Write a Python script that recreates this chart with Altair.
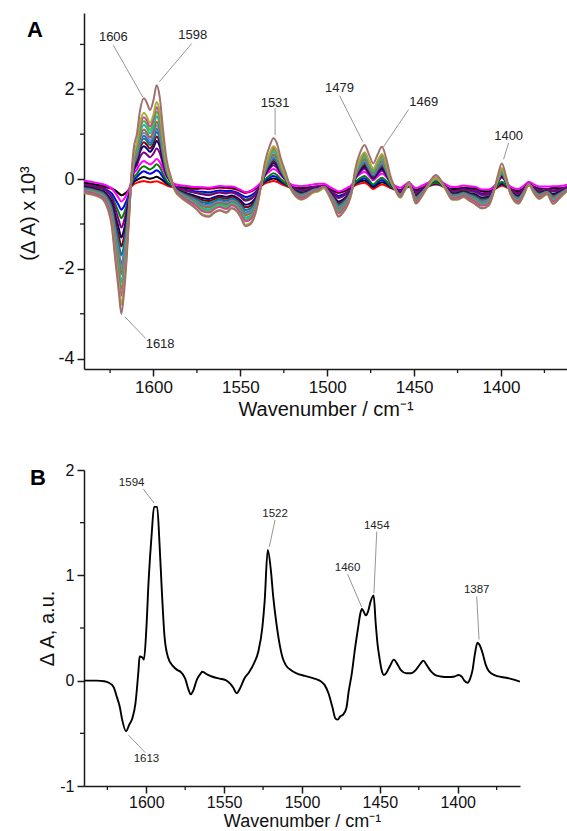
import altair as alt
import pandas as pd

FONT = "Liberation Sans"

# ---------------- Panel A: difference spectra (earliest and latest)
WAVENUMBER_A = [1640, 1636, 1632, 1629, 1626, 1624, 1622, 1620, 1618.5, 1617,
                1615.5, 1614, 1613, 1611.5, 1609.5, 1607.7, 1605.5, 1604, 1602, 1600,
                1598.2, 1596.5, 1594.5, 1592.5, 1590, 1587.5, 1584.5, 1581, 1578, 1575,
                1572, 1568, 1565, 1562, 1558, 1555, 1552, 1550, 1547, 1544,
                1542, 1540, 1538, 1536, 1533, 1531, 1529, 1527, 1524, 1521,
                1518, 1515, 1512, 1508, 1505, 1502, 1499, 1496, 1493.5, 1491,
                1488, 1486, 1484, 1481, 1478.5, 1476, 1473.5, 1471, 1468.5, 1466,
                1463.5, 1461.5, 1458, 1455, 1453, 1451, 1449, 1446, 1443, 1440,
                1437.5, 1435, 1432, 1428, 1425, 1421.5, 1418, 1415, 1411, 1407,
                1404, 1402, 1399.5, 1397, 1394.5, 1390, 1387, 1384, 1381, 1378,
                1373.5, 1370, 1366, 1362]

FIRST_A = [-0.10, -0.12, -0.15, -0.17, -0.20, -0.22, -0.26, -0.32, -0.36, -0.34,
           -0.30, -0.24, -0.18, -0.12, -0.08, -0.06, -0.04, -0.06, -0.07, -0.06,
           -0.05, -0.07, -0.10, -0.14, -0.17, -0.19, -0.20, -0.21, -0.22, -0.22,
           -0.21, -0.22, -0.21, -0.19, -0.20, -0.21, -0.24, -0.27, -0.31, -0.28,
           -0.24, -0.20, -0.15, -0.10, -0.06, -0.04, -0.06, -0.10, -0.15, -0.19,
           -0.21, -0.22, -0.21, -0.19, -0.18, -0.19, -0.23, -0.28, -0.31, -0.29,
           -0.24, -0.20, -0.14, -0.10, -0.08, -0.14, -0.22, -0.16, -0.12, -0.15,
           -0.20, -0.23, -0.26, -0.20, -0.17, -0.22, -0.26, -0.22, -0.18, -0.14,
           -0.12, -0.14, -0.19, -0.24, -0.23, -0.21, -0.22, -0.22, -0.28, -0.29,
           -0.24, -0.19, -0.15, -0.18, -0.24, -0.28, -0.22, -0.15, -0.19, -0.23,
           -0.24, -0.21, -0.22, -0.20]

LAST_A = [-0.30, -0.33, -0.38, -0.45, -0.70, -1.05, -1.80, -2.50, -3.00, -2.55,
          -1.80, -0.84, -0.10, 0.65, 1.02, 1.54, 1.80, 1.72, 1.54, 1.76,
          2.09, 1.85, 1.10, 0.45, 0.05, -0.25, -0.39, -0.50, -0.58, -0.68,
          -0.80, -0.84, -0.75, -0.70, -0.75, -0.65, -0.72, -0.84, -1.05, -1.00,
          -0.85, -0.55, -0.10, 0.35, 0.75, 0.91, 0.80, 0.50, 0.15, -0.20,
          -0.38, -0.45, -0.40, -0.28, -0.25, -0.17, -0.35, -0.62, -0.84, -0.75,
          -0.55, -0.30, 0.20, 0.60, 0.76, 0.55, 0.35, 0.55, 0.72, 0.45,
          0.05, -0.15, -0.40, -0.20, -0.06, -0.30, -0.54, -0.40, -0.20, 0.00,
          0.09, 0.00, -0.20, -0.45, -0.45, -0.39, -0.48, -0.55, -0.65, -0.58,
          -0.25, 0.05, 0.35, 0.05, -0.32, -0.54, -0.35, -0.10, -0.30, -0.43,
          -0.32, -0.55, -0.40, -0.25]

# per spectrum: colour, height read at 1598, depth read at 1618, baseline shift
SERIES_NAMES = ["s01", "s02", "s03", "s04", "s05", "s06", "s07", "s08", "s09",
                "s10", "s11", "s12", "s13", "s14", "s15", "s16", "s17"]
SERIES_COLORS = ["#FF0000", "#000000", "#0000FF", "#008000", "#FF00FF", "#800080",
                 "#000080", "#800000", "#008080", "#4060C8", "#6A8FC8", "#A0662A",
                 "#20B0B0", "#40C040", "#D040A0", "#A0B030", "#A07070"]
SERIES_PEAK_1598 = [-0.05, 0.05, 0.20, 0.33, 0.45, 0.68, 0.85, 0.95, 1.05,
                    1.12, 1.20, 1.28, 1.40, 1.50, 1.60, 1.72, 2.09]
SERIES_DIP_1618 = [-0.36, -0.36, -0.68, -0.87, -0.50, -1.08, -1.30, -1.50, -1.70,
                   -1.90, -2.00, -2.12, -2.30, -2.45, -2.60, -2.80, -3.00]
SERIES_SHIFT = [0.0, 0.02, 0.0, 0.0, 0.08, 0.04, 0.0, 0.0, 0.0,
                0.0, 0.0, 0.0, 0.0, 0.0, 0.0, -0.03, 0.0]

A_LABELS = ["1606", "1598", "1531", "1479", "1469", "1400", "1618"]
A_LABEL_X = [1623.1, 1577.4, 1530.0, 1492.9, 1444.5, 1395.6, 1596.2]
A_LABEL_Y = [3.16, 3.22, 1.70, 2.03, 1.71, 0.96, -3.68]
A_LEAD_X1 = [1623.1, 1578.0, 1530.0, 1492.9, 1453.2, 1395.6, 1616.4]
A_LEAD_Y1 = [2.98, 3.02, 1.58, 1.86, 1.55, 0.81, -3.07]
A_LEAD_X2 = [1606.2, 1596.6, 1530.0, 1479.5, 1467.6, 1398.5, 1604.5]
A_LEAD_Y2 = [1.83, 2.17, 0.98, 0.83, 0.72, 0.44, -3.55]

A_X_TICKS = [1600, 1550, 1500, 1450, 1400]
A_X_MINOR = [1625, 1575, 1525, 1475, 1425, 1375]
A_Y_TICKS = [-4, -2, 0, 2]
A_Y_MINOR = [-3, -1, 1, 3]

# ---------------- Panel B
WAVENUMBER_B = [1640, 1632, 1627, 1624, 1621, 1619, 1617, 1615.5, 1613, 1611,
                1609, 1607, 1605, 1604.3, 1602.5, 1601.5, 1600, 1598.5, 1596.5, 1595,
                1593, 1591.5, 1590, 1588.3, 1586, 1583, 1580, 1578, 1575, 1573,
                1571.5, 1570, 1567.5, 1565, 1564, 1561, 1557, 1553, 1549, 1546,
                1544, 1542, 1540, 1537, 1534, 1531, 1528, 1525.5, 1524, 1522,
                1520, 1518.5, 1516.5, 1515, 1512.5, 1510.5, 1507, 1503.5, 1498, 1492,
                1488, 1485.5, 1483, 1480.5, 1478.5, 1477, 1475.5, 1473.5, 1471.5, 1470,
                1468, 1466, 1464, 1462.5, 1461.5, 1460.5, 1459, 1457.5, 1456, 1454,
                1452.7, 1451.5, 1450.4, 1448.5, 1447.5, 1446, 1443.5, 1441, 1438.5, 1436.5,
                1433, 1430, 1427, 1424, 1422, 1420, 1417, 1414, 1411, 1406,
                1402, 1399.6, 1397.5, 1396, 1393.7, 1392, 1390.5, 1389, 1387.3, 1386,
                1384, 1382, 1380, 1376, 1372, 1368, 1364, 1360]
SPECTRUM_B = [0.0, 0.0, -0.005, -0.02, -0.06, -0.15, -0.25, -0.37, -0.48, -0.42,
              -0.36, -0.22, 0.10, 0.23, 0.22, 0.20, 0.48, 0.95, 1.40, 1.65,
              1.65, 1.30, 0.85, 0.42, 0.22, 0.14, 0.10, 0.085, 0.02, -0.08,
              -0.13, -0.10, 0.01, 0.07, 0.085, 0.06, 0.035, 0.02, 0.005, -0.03,
              -0.07, -0.12, -0.08, 0.02, 0.08, 0.16, 0.28, 0.50, 0.75, 1.24,
              1.05, 0.80, 0.55, 0.40, 0.22, 0.15, 0.10, 0.07, 0.045, 0.02,
              -0.005, -0.04, -0.12, -0.25, -0.36, -0.37, -0.34, -0.32, -0.26, -0.10,
              0.07, 0.30, 0.50, 0.64, 0.68, 0.66, 0.62, 0.66, 0.75, 0.81,
              0.55, 0.35, 0.23, 0.08, 0.054, 0.07, 0.14, 0.20, 0.15, 0.10,
              0.07, 0.07, 0.10, 0.16, 0.19, 0.15, 0.085, 0.05, 0.04, 0.035,
              0.04, 0.054, 0.04, 0.006, -0.02, 0.02, 0.10, 0.25, 0.36, 0.34,
              0.26, 0.15, 0.09, 0.05, 0.035, 0.025, 0.01, -0.01]

B_LABELS = ["1594", "1522", "1460", "1454", "1387", "1613"]
B_LABEL_X = [1609.4, 1517.3, 1470.7, 1452.0, 1387.8, 1599.9]
B_LABEL_Y = [1.875, 1.58, 1.073, 1.472, 0.861, -0.746]
B_LEAD_X1 = [1601.9, 1517.3, 1470.7, 1452.0, 1387.8, 1611.5]
B_LEAD_Y1 = [1.82, 1.526, 1.01, 1.415, 0.80, -0.516]
B_LEAD_X2 = [1595.0, 1521.0, 1461.7, 1453.8, 1386.3, 1600.6]
B_LEAD_Y2 = [1.685, 1.27, 0.70, 0.83, 0.39, -0.684]

B_X_TICKS = [1600, 1550, 1500, 1450, 1400]
B_X_MINOR = [1625, 1575, 1525, 1475, 1425, 1375]
B_Y_TICKS = [-1, 0, 1, 2]
B_Y_MINOR = [-0.5, 0.5, 1.5]

# ---------------- tables
i_pk = WAVENUMBER_A.index(1598.2)
i_dp = WAVENUMBER_A.index(1618.5)
rows = []
for k, name in enumerate(SERIES_NAMES):
    sh = SERIES_SHIFT[k]
    wpos = (SERIES_PEAK_1598[k] - sh - FIRST_A[i_pk]) / (LAST_A[i_pk] - FIRST_A[i_pk])
    wneg = (SERIES_DIP_1618[k] - sh - FIRST_A[i_dp]) / (LAST_A[i_dp] - FIRST_A[i_dp])
    for j, wn in enumerate(WAVENUMBER_A):
        d = LAST_A[j] - FIRST_A[j]
        v = FIRST_A[j] + d * (wpos if d > 0 else wneg) + sh
        rows.append({"series": name, "k": k, "wn": wn, "dA": v})
dfA = pd.DataFrame(rows)
dfB = pd.DataFrame({"wn": WAVENUMBER_B, "dA": SPECTRUM_B})

annA = pd.DataFrame({"label": A_LABELS, "x": A_LABEL_X, "y": A_LABEL_Y,
                     "x1": A_LEAD_X1, "y1": A_LEAD_Y1, "x2": A_LEAD_X2, "y2": A_LEAD_Y2})
annB = pd.DataFrame({"label": B_LABELS, "x": B_LABEL_X, "y": B_LABEL_Y,
                     "x1": B_LEAD_X1, "y1": B_LEAD_Y1, "x2": B_LEAD_X2, "y2": B_LEAD_Y2})

AX = "#1a1a1a"
LBL = "toString(datum.value)"
AXIS_STYLE = dict(domainColor=AX, domainWidth=1.5, tickColor=AX, tickWidth=1.5,
                  labelColor="#111111", titleColor="#111111", labelFont=FONT,
                  titleFont=FONT, titleFontWeight="normal", labelOverlap=False,
                  labelFlush=False, grid=False, tickSize=7)


def panel(df_lines, ann, xdom, ydom, xt, xm, yt, ym, w, h, ylab_size, ytitle,
          title_x, title_y, letter, lx, ly, ann_size, color_enc, line_width,
          xlab_size, xlab_pad, xtitle_size, xtitle_pad):
    xs = alt.Scale(domain=xdom, nice=False, zero=False)
    ys = alt.Scale(domain=ydom, nice=False, zero=False)
    xax = alt.Axis(values=xt, labelFontSize=xlab_size, labelExpr=LBL, labelPadding=xlab_pad,
                   title="Wavenumber / cm\u207b\u00b9", titleFontSize=xtitle_size,
                   titlePadding=xtitle_pad, **AXIS_STYLE)
    yax = alt.Axis(values=yt, labelFontSize=ylab_size, labelExpr=LBL, labelPadding=3,
                   title=ytitle, titleFontSize=20, titleX=title_x, titleY=title_y,
                   titleAngle=270, titleAlign="center", titleBaseline="middle", **AXIS_STYLE)
    enc = dict(
        x=alt.X("wn:Q", scale=xs, axis=xax),
        y=alt.Y("dA:Q", scale=ys, axis=yax),
    )
    if color_enc is not None:
        enc["color"] = color_enc
        lines = alt.Chart(df_lines).mark_line(strokeWidth=line_width, interpolate="monotone",
                                              clip=True).encode(**enc)
    else:
        lines = alt.Chart(df_lines).mark_line(strokeWidth=line_width, interpolate="monotone",
                                              clip=True, color="#000000").encode(**enc)
    minor_x = alt.Chart(pd.DataFrame({"v": xm})).mark_rule(color=AX, strokeWidth=1.3).encode(
        x=alt.X("v:Q", scale=xs, axis=xax), y=alt.value(h), y2=alt.value(h + 4))
    minor_y = alt.Chart(pd.DataFrame({"v": ym})).mark_rule(color=AX, strokeWidth=1.3).encode(
        y=alt.Y("v:Q", scale=ys, axis=yax), x=alt.value(0), x2=alt.value(-4))
    leaders = alt.Chart(ann).mark_rule(color="#7a7a7a", strokeWidth=0.8).encode(
        x=alt.X("x1:Q", scale=xs, axis=xax), x2="x2:Q",
        y=alt.Y("y1:Q", scale=ys, axis=yax), y2="y2:Q")
    texts = alt.Chart(ann).mark_text(font=FONT, fontSize=ann_size, color="#222222",
                                     align="center", baseline="middle").encode(
        x=alt.X("x:Q", scale=xs, axis=xax), y=alt.Y("y:Q", scale=ys, axis=yax),
        text="label:N")
    let = alt.Chart(pd.DataFrame({"t": [letter]})).mark_text(
        font=FONT, fontSize=22, fontWeight="bold", color="#000000",
        align="center", baseline="middle").encode(
        text="t:N", x=alt.value(lx), y=alt.value(ly))
    return alt.layer(lines, minor_x, minor_y, leaders, texts, let).properties(width=w, height=h)


colorA = alt.Color("series:N", scale=alt.Scale(domain=SERIES_NAMES, range=SERIES_COLORS),
                   legend=None, sort=SERIES_NAMES)

chartA = panel(dfA, annA, [1640, 1362], [-4.23, 3.7], A_X_TICKS, A_X_MINOR, A_Y_TICKS,
               A_Y_MINOR, 483, 356, 18, "(\u0394 A) x 10\u00b3", -56, 200, "A", -49, 17, 13,
               colorA, 2.0, 17, 3, 20, 4)
chartB = panel(dfB, annB, [1640, 1360], [-1, 2], B_X_TICKS, B_X_MINOR, B_Y_TICKS,
               B_Y_MINOR, 436, 316, 16, "\u0394 A, a.u.", -37, 158, "B", -46, 8, 11.5,
               None, 1.9, 16, 1, 18, 2)

chart = alt.vconcat(chartA, chartB, spacing=101, bounds="flush").properties(
    padding={"left": 18, "top": 13, "right": 0, "bottom": 0},
    background="white"
).configure_view(stroke=None)

chart.save("out.html", embed_options={"renderer": "svg", "actions": False})
